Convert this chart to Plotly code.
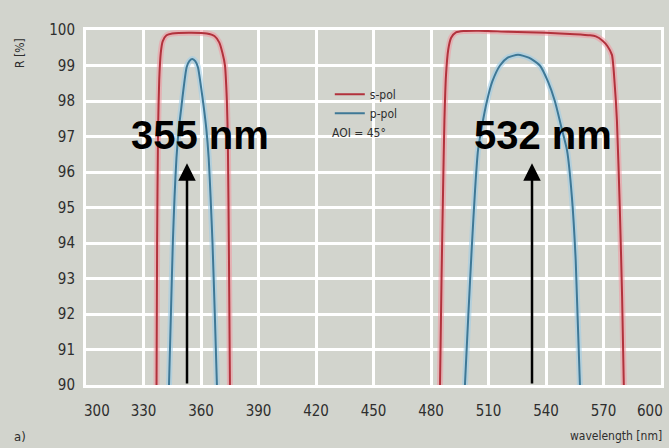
import plotly.graph_objects as go

# ---- data ----
# 355 nm band
s355_nm = [336.8, 337.1, 337.6, 338.2, 339.0, 340.0, 342.0, 345.0, 355.0, 363.0,
           367.0, 369.5, 371.2, 372.5, 373.5, 374.0, 374.6, 375.1]
s355_r = [90.0, 94.0, 97.2, 98.6, 99.35, 99.68, 99.85, 99.9, 99.92, 99.9,
          99.83, 99.65, 99.35, 99.0, 98.0, 96.9, 93.5, 90.0]
p355_nm = [343.3, 344.3, 345.3, 346.2, 347.2, 348.4, 349.7, 351.0, 352.5, 354.0,
           355.5, 357.0, 358.4, 360.0, 361.5, 362.8, 364.0, 365.0, 366.0, 367.2, 368.3]
p355_r = [90.0, 92.0, 94.0, 95.3, 96.4, 97.2, 97.8, 98.4, 98.95, 99.13,
          99.18, 99.12, 98.95, 98.4, 97.8, 97.2, 96.4, 95.3, 94.0, 92.0, 90.0]

# 532 nm band
s532_nm = [484.7, 485.5, 486.3, 487.0, 487.8, 489.0, 490.5, 493.0, 497.0, 505.0,
           520.0, 540.0, 555.0, 563.0, 566.0, 569.5, 572.0, 574.4, 575.8, 577.0,
           578.5, 579.7, 580.6]
s532_r = [90.0, 93.0, 95.5, 97.45, 98.7, 99.45, 99.78, 99.93, 99.97, 99.98,
          99.95, 99.92, 99.88, 99.85, 99.82, 99.7, 99.55, 99.3, 98.5, 97.45,
          95.0, 92.5, 90.0]
p532_nm = [497.7, 499.5, 501.3, 503.0, 504.5, 506.6, 509.2, 512.0, 516.0, 520.0,
           525.4, 531.0, 536.8, 541.0, 544.6, 548.3, 551.0, 553.5, 555.5, 557.7]
p532_r = [90.0, 92.0, 93.9, 95.5, 96.6, 97.3, 98.0, 98.55, 99.0, 99.22,
          99.3, 99.22, 99.0, 98.55, 98.0, 97.2, 96.6, 95.3, 93.5, 90.0]

x_ticks = [300, 330, 360, 390, 420, 450, 480, 510, 540, 570, 600]
y_ticks = [90, 91, 92, 93, 94, 95, 96, 97, 98, 99, 100]

band_labels = ["355 nm", "532 nm"]
label_nm = [359.5, 538.4]
arrow_nm = [352.7, 532.7]
arrow_tip = 96.25

RED = "#b2323c"
RED_GLOW = "rgba(240,150,160,0.55)"
BLUE = "#3e7896"
BLUE_GLOW = "rgba(160,205,230,0.6)"
BG = "#d2d4cd"
COND = "DejaVu Sans Condensed, Liberation Sans Narrow, Liberation Sans, sans-serif"
INK = "#2e2e2e"

fig = go.Figure()

curves = [
    (s355_nm, s355_r, RED, RED_GLOW, "s-pol", True),
    (p355_nm, p355_r, BLUE, BLUE_GLOW, "p-pol", True),
    (s532_nm, s532_r, RED, RED_GLOW, "s-pol", False),
    (p532_nm, p532_r, BLUE, BLUE_GLOW, "p-pol", False),
]

# soft halo under each curve
for xs, ys, col, glow, name, _ in curves:
    fig.add_trace(go.Scatter(
        x=xs, y=ys, mode="lines", hoverinfo="skip", showlegend=False,
        line=dict(color=glow, width=6, shape="spline", smoothing=0.6)
    ))

for xs, ys, col, glow, name, leg in curves:
    fig.add_trace(go.Scatter(
        x=xs, y=ys, mode="lines", name=name, showlegend=leg, legendgroup=name,
        line=dict(color=col, width=2, shape="spline", smoothing=0.6)
    ))

# arrows and band labels
for nm in arrow_nm:
    fig.add_annotation(
        x=nm, y=arrow_tip, ax=nm, ay=90, xref="x", yref="y", axref="x", ayref="y",
        showarrow=True, arrowhead=2, arrowsize=1.4, arrowwidth=2.5, arrowcolor="black",
        text=""
    )
for lab, nm in zip(band_labels, label_nm):
    fig.add_annotation(
        x=nm, y=97.05, text=f"<b>{lab}</b>", showarrow=False,
        font=dict(family="Liberation Sans, Arial, sans-serif", size=40, color="black"),
        xanchor="center", yanchor="middle"
    )

# first and last x labels sit inward from their ticks, as in the original
inner_text = [str(v) for v in x_ticks]
inner_text[0] = ""
inner_text[-1] = ""
for v, anchor, shift in [(x_ticks[0], "left", -4), (x_ticks[-1], "right", 4)]:
    fig.add_annotation(
        x=v, y=-0.073, xref="x", yref="paper", text=str(v), showarrow=False,
        xanchor=anchor, yanchor="middle", xshift=shift,
        font=dict(family=COND, size=15, color=INK)
    )

fig.add_annotation(
    x=0.424, y=0.71, xref="paper", yref="paper", text="AOI = 45°", showarrow=False,
    xanchor="left", yanchor="middle", font=dict(family=COND, size=12, color=INK)
)

# axis captions
fig.add_annotation(
    x=-0.115, y=0.935, xref="paper", yref="paper", text="R [%]", textangle=-90,
    showarrow=False, xanchor="center", yanchor="middle",
    font=dict(family=COND, size=12, color=INK)
)
fig.add_annotation(
    x=1.005, y=-0.144, xref="paper", yref="paper", text="wavelength [nm]",
    showarrow=False, xanchor="right", yanchor="middle",
    font=dict(family=COND, size=12, color=INK)
)
fig.add_annotation(
    x=-0.115, y=-0.144, xref="paper", yref="paper", text="a)",
    showarrow=False, xanchor="center", yanchor="middle",
    font=dict(family=COND, size=13, color=INK)
)

fig.update_layout(
    width=669, height=448,
    margin=dict(l=86, r=8, t=30, b=63, autoexpand=False),
    paper_bgcolor=BG, plot_bgcolor=BG,
    font=dict(family=COND, size=15, color=INK),
    legend=dict(
        x=0.424, y=0.86, xanchor="left", yanchor="top",
        bgcolor="rgba(0,0,0,0)", font=dict(family=COND, size=12, color=INK),
        itemwidth=30, tracegroupgap=0
    ),
)
fig.update_xaxes(
    range=[300, 600], tickvals=x_ticks, ticktext=inner_text, automargin=False,
    showgrid=True, gridcolor="white", gridwidth=3,
    showline=True, linecolor="white", linewidth=3, mirror=True, zeroline=False,
    ticks="", ticklabelstandoff=10
)
fig.update_yaxes(
    range=[90, 100], tickvals=y_ticks, automargin=False,
    showgrid=True, gridcolor="white", gridwidth=3,
    showline=True, linecolor="white", linewidth=3, mirror=True, zeroline=False,
    ticks="", ticklabelstandoff=5
)

fig.write_html(
    "out.html",
    config={"displayModeBar": False},
    post_script="document.body.style.margin='0';document.body.style.background='%s';" % BG
)
